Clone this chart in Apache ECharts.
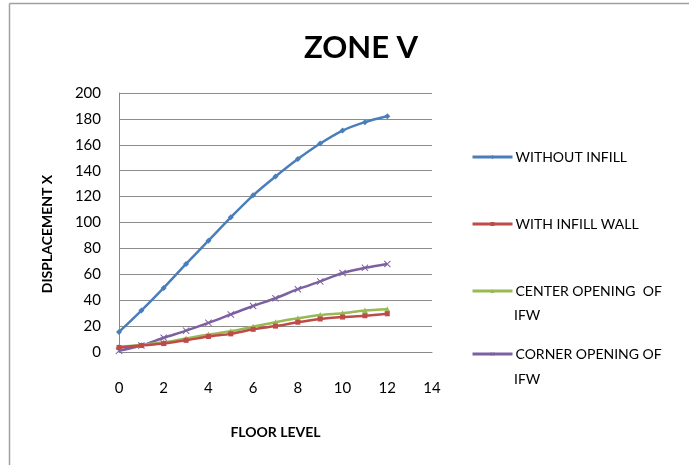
<!DOCTYPE html>
<html>
<head>
<meta charset="utf-8">
<script src="https://cdn.jsdelivr.net/npm/echarts@6/dist/echarts.min.js"></script>
<style>
  html, body { margin: 0; padding: 0; background: #fff; }
  #main { width: 689px; height: 465px; }
</style>
</head>
<body>
<div id="main"></div>
<script>
// floor levels (x values)
var floors = [0, 1, 2, 3, 4, 5, 6, 7, 8, 9, 10, 11, 12];
var withoutInfill = [15.5, 32, 49.5, 68, 86, 104, 121, 135.5, 149, 161, 171, 177.5, 182];
var withInfillWall = [3.5, 5, 6.5, 9, 12, 14, 17.5, 20, 23, 25.5, 27, 28, 29.5];
var centerOpening = [4, 5.5, 7.5, 10.5, 13.5, 16, 19.5, 23, 26, 28.5, 30, 32, 33];
var cornerOpening = [1, 5, 11, 16.5, 22.5, 29, 35.5, 41.5, 48.5, 54.5, 61, 65, 68];
var xTicks = [0, 14, 2];   // min, max, interval
var yTicks = [0, 200, 20];

var names = ['WITHOUT INFILL', 'WITH INFILL WALL', 'CENTER OPENING  OF IFW', 'CORNER OPENING OF IFW'];
var colors = ['#4A7EBB', '#BE4B48', '#98B954', '#7D60A0'];
var crossPath = 'path://M0,1L1,0L5,4L9,0L10,1L6,5L10,9L9,10L5,6L1,10L0,9L4,5Z';
var symbols = ['diamond', 'rect', 'triangle', crossPath];
var symbolSizes = [6, 5, 6, 7];
var dataSets = [withoutInfill, withInfillWall, centerOpening, cornerOpening];

var font = 'Lato, "Open Sans", sans-serif';

function pairs(arr) {
    return floors.map(function (f, i) { return [f, arr[i]]; });
}

var series = dataSets.map(function (d, i) {
    return {
        name: names[i],
        type: 'line',
        smooth: 0.3,
        data: pairs(d),
        symbol: symbols[i],
        symbolSize: symbolSizes[i],
        showAllSymbol: true,
        lineStyle: { color: colors[i], width: 2.5 },
        itemStyle: { color: colors[i] },
        z: 10 - i
    };
});

// one legend per row, the reference spaces them unevenly
var legendTops = [150, 217, 284, 347];
var legendLabels = ['WITHOUT INFILL', 'WITH INFILL WALL', 'CENTER OPENING  OF', 'CORNER OPENING OF'];
var legends = names.map(function (n, i) {
    return {
        data: [n],
        left: 471,
        top: legendTops[i],
        padding: 0,
        orient: 'vertical',
        itemWidth: 40,
        itemHeight: 5,
        itemGap: 0,
        lineStyle: { width: 3 },
        formatter: function () { return legendLabels[i]; },
        textStyle: { fontFamily: font, fontSize: 14, color: '#000', padding: [0, 0, 0, -2] }
    };
});

var myChart = echarts.init(document.getElementById('main'));
var option = {
    backgroundColor: '#fff',
    animation: false,
    title: {
        text: 'ZONE V',
        left: 356,
        textAlign: 'center',
        top: 27,
        textStyle: { fontFamily: font, fontSize: 31, fontWeight: 'bold', color: '#000' }
    },
    legend: legends,
    grid: { left: 119, right: 257, top: 93, bottom: 113 },
    xAxis: {
        type: 'value',
        min: xTicks[0], max: xTicks[1], interval: xTicks[2],
        name: 'FLOOR LEVEL',
        nameLocation: 'middle',
        nameGap: 73,
        nameTextStyle: { fontFamily: font, fontSize: 14, fontWeight: 'bold', color: '#000' },
        axisLine: { show: true, lineStyle: { color: '#888', width: 1 } },
        axisTick: { show: false },
        splitLine: { show: false },
        axisLabel: { margin: 29, fontFamily: font, fontSize: 15, color: '#000' }
    },
    yAxis: {
        type: 'value',
        min: yTicks[0], max: yTicks[1], interval: yTicks[2],
        axisLine: { show: true, lineStyle: { color: '#888', width: 1 } },
        axisTick: { show: false },
        splitLine: { show: true, lineStyle: { color: '#8c8c8c', width: 1 } },
        axisLabel: { margin: 18, fontFamily: font, fontSize: 15, color: '#000' }
    },
    graphic: [
        { type: 'line', shape: { x1: 9.5, y1: 3.5, x2: 689, y2: 3.5 }, style: { stroke: '#a0a0a0', lineWidth: 1.5 } },
        { type: 'line', shape: { x1: 9.5, y1: 3.5, x2: 9.5, y2: 465 }, style: { stroke: '#a0a0a0', lineWidth: 1.5 } },
        // y axis title sits below the plot centre in the reference
        { type: 'text', x: 47, y: 234, rotation: Math.PI / 2,
          style: { text: 'DISPLACEMENT X', font: 'bold 14px ' + font, fill: '#000', align: 'center', verticalAlign: 'middle' } },
        { type: 'text', left: 514, top: 308, style: { text: 'IFW', font: '14px ' + font, fill: '#000' } },
        { type: 'text', left: 514, top: 372, style: { text: 'IFW', font: '14px ' + font, fill: '#000' } }
    ],
    series: series
};
myChart.setOption(option);
window.onresize = function () {
    myChart.resize();
};
</script>
</body>
</html>
